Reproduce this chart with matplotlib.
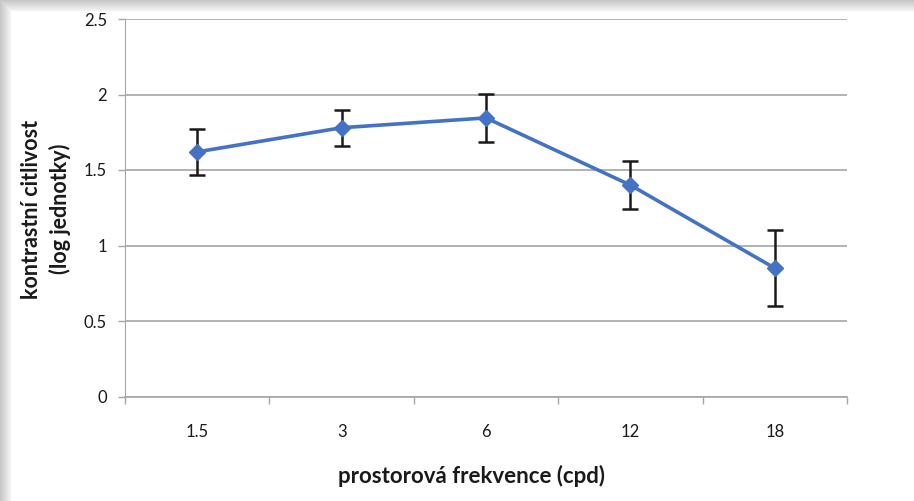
import numpy as np
import matplotlib.pyplot as plt

# data
freq_labels = ["1.5", "3", "6", "12", "18"]
sensitivity = [1.62, 1.78, 1.845, 1.40, 0.85]
err = [0.15, 0.12, 0.16, 0.16, 0.25]
y_ticks = [0, 0.5, 1, 1.5, 2, 2.5]

BLUE = "#4472C4"
GRID = "#A6A6A6"
INK = "#1A1A1A"

plt.rcParams["font.family"] = ["Lato", "DejaVu Sans"]

W, H = 914, 501
fig = plt.figure(figsize=(W / 100, H / 100), dpi=100)

# drop-shadow frame (gray gradient along top and left edges)
bg = np.ones((H, W))
shade = 11
ramp = np.linspace(0.78, 0.95, shade)
bg[:shade, :] = np.minimum(bg[:shade, :], ramp[:, None])
bg[:, :shade] = np.minimum(bg[:, :shade], ramp[None, :])
bax = fig.add_axes([0, 0, 1, 1], zorder=-10)
bax.imshow(bg, cmap="gray", vmin=0, vmax=1, aspect="auto", interpolation="bilinear")
bax.axis("off")

ax = fig.add_axes([125 / W, 1 - 396.5 / H, (847 - 125) / W, (396.5 - 19) / H])
ax.set_facecolor("none")
x = np.arange(len(freq_labels))
ax.errorbar(x, sensitivity, yerr=err, fmt="none", ecolor=INK, elinewidth=1.8,
            capsize=5.5, capthick=1.8, zorder=3)
ax.plot(x, sensitivity, color=BLUE, lw=2.6, marker="D", ms=8.5,
        markerfacecolor=BLUE, markeredgecolor=BLUE, zorder=4)

ax.set_xlim(-0.5, len(freq_labels) - 0.5)
ax.set_ylim(0, 2.5)
ax.set_yticks(y_ticks)
ax.set_yticklabels([f"{v:g}" for v in y_ticks])
ax.set_xticks(x)
ax.set_xticklabels(freq_labels)
ax.set_xticks(np.arange(len(freq_labels) + 1) - 0.5, minor=True)
ax.tick_params(axis="x", which="major", length=0, pad=20, labelsize=12, colors=INK)
ax.tick_params(axis="x", which="minor", length=5, width=1, color=GRID)
ax.tick_params(axis="y", length=5, width=1, color=GRID, pad=8, labelsize=12, labelcolor=INK)

ax.grid(axis="y", color=GRID, lw=1.2)
ax.set_axisbelow(True)
for s in ("top", "right"):
    ax.spines[s].set_visible(False)
ax.spines["left"].set_color(GRID)
ax.spines["bottom"].set_color(GRID)
ax.spines["bottom"].set_linewidth(1.2)

ax.set_xlabel("prostorová frekvence (cpd)", fontsize=16, fontweight="bold", color=INK)
ax.xaxis.set_label_coords((472 - 125) / 722, -0.18)
fig.text(46 / W, 1 - 209 / H, "kontrastní citlivost\n(log jednotky)", rotation=90,
         fontsize=15.5, fontweight="bold", color=INK, ha="center", va="center",
         linespacing=1.35)

fig.savefig("out.png", dpi=100)
